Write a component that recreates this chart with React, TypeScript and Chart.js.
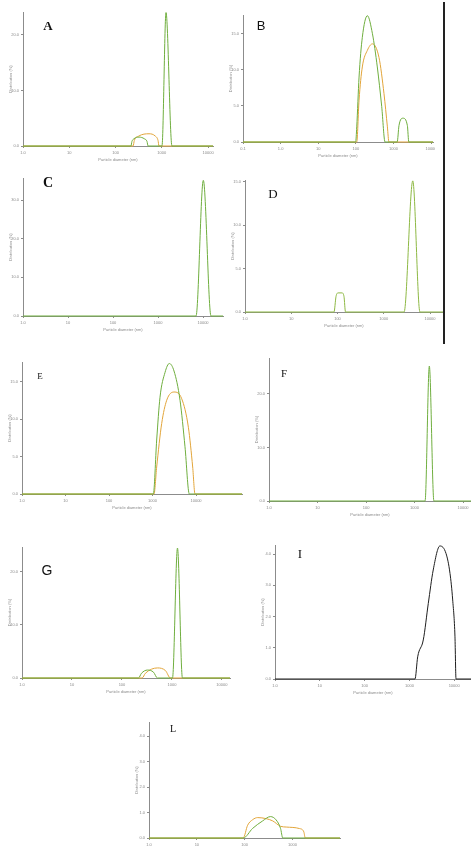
import React, { useEffect, useRef } from "react";
import { Chart, registerables } from "chart.js";

Chart.register(...registerables);

const GREEN = "#6fae3e";
const OLIVE = "#8db843";
const ORANGE = "#e2a53a";
const BLACK = "#1e1e1e";

// x tick sets (particle diameter, nm)
const xTicks5 = [1, 10, 100, 1000, 10000];
const xLabels5 = ["1.0", "10", "100", "1000", "10000"];
const xTicks6 = [0.1, 1, 10, 100, 1000, 10000];
const xLabels6 = ["0.1", "1.0", "10", "100", "1000", "10000"];
const xTicks4 = [1, 10, 100, 1000];
const xLabels4 = ["1.0", "10", "100", "1000"];

// y tick sets (distribution %)
const yTicks20 = [0, 10, 20];
const yLabels20 = ["0.0", "10.0", "20.0"];
const yTicks15 = [0, 5, 10, 15];
const yLabels15 = ["0.0", "5.0", "10.0", "15.0"];
const yTicks30 = [0, 10, 20, 30];
const yLabels30 = ["0.0", "10.0", "20.0", "30.0"];
const yTicks4 = [0, 1, 2, 3, 4];
const yLabels4 = ["0.0", "1.0", "2.0", "3.0", "4.0"];

// Panel A
const aGreenX = [1, 216, 226, 250, 323, 420, 480, 505, 1010, 1235, 1660, 12800];
const aGreenY = [0, 0, 0.8, 1.3, 1.6, 1.3, 0.8, 0, 0, 24, 0, 0];
const aOrangeX = [1, 240, 255, 320, 530, 720, 830, 870, 12800];
const aOrangeY = [0, 0, 1.0, 1.8, 2.2, 1.8, 1.0, 0, 0];

// Panel B
const bGreenX = [0.1, 99, 106, 122, 149, 203, 277, 373, 489, 600, 1260, 1410, 1800, 2350, 2570, 11300];
const bGreenY = [0, 0, 2.1, 9.0, 14.5, 17.5, 15.0, 10.4, 4.9, 0, 0, 2.3, 3.3, 2.3, 0, 0];
const bOrangeX = [0.1, 106, 122, 149, 203, 277, 414, 562, 692, 760, 11300];
const bOrangeY = [0, 0, 5.8, 10.4, 12.7, 13.6, 11.7, 6.7, 2.1, 0, 0];

// Panel C
const cGreenX = [1, 6990, 10160, 15060, 27800];
const cGreenY = [0, 0, 35.1, 0, 0];

// Panel D
const dGreenX = [1, 84, 93, 103, 125, 138, 149, 2750, 4240, 6060, 19100];
const dGreenY = [0, 0, 1.8, 2.2, 2.2, 1.8, 0, 0, 15.1, 0, 0];

// Panel E
const eGreenX = [1, 1043, 1247, 1487, 1937, 2435, 3120, 4290, 5580, 7020, 114000];
const eGreenY = [0, 0, 7.2, 12.9, 16.2, 17.4, 16.4, 12.5, 6.3, 0, 0];
const eOrangeX = [1, 1082, 1247, 1625, 2120, 3120, 4690, 6670, 8380, 9480, 114000];
const eOrangeY = [0, 0, 3.6, 9.4, 12.5, 13.6, 12.7, 8.9, 3.6, 0, 0];

// Panel F
const fGreenX = [1, 1650, 2020, 2510, 14600];
const fGreenY = [0, 0, 25.2, 0, 0];

// Panel G
const gGreenX = [1, 214, 246, 324, 427, 513, 1025, 1290, 1620, 14500];
const gGreenY = [0, 0, 0.9, 1.5, 1.1, 0, 0, 24.5, 0, 0];
const gOrangeX = [1, 253, 295, 513, 741, 933, 14500];
const gOrangeY = [0, 0, 0.9, 1.9, 1.4, 0, 0];

// Panel I
const iBlackX = [1, 1333, 1530, 2040, 2640, 3400, 4800, 6560, 8060, 9250, 10400, 10970, 23700];
const iBlackY = [0, 0, 0.71, 1.25, 2.42, 3.49, 4.26, 4.02, 3.38, 2.53, 1.35, 0, 0];

// Panel L
const lGreenX = [1, 93, 147, 237, 345, 453, 560, 625, 9800];
const lGreenY = [0, 0, 0.38, 0.67, 0.84, 0.71, 0.38, 0, 0];
const lOrangeX = [1, 93, 115, 147, 187, 279, 385, 560, 735, 1400, 1720, 1840, 9800];
const lOrangeY = [0, 0, 0.5, 0.72, 0.8, 0.76, 0.67, 0.46, 0.43, 0.37, 0.24, 0, 0];

type Series = { x: number[]; y: number[]; color: string };
type PanelCfg = {
  letter: string;
  letterX: number;
  letterY: number;
  letterFont: string;
  letterSize: number;
  letterWeight: number;
  axisX: number;
  axisTop: number;
  axisRight: number;
  axisBottom: number;
  xMin: number;
  xMax: number;
  xTicks: number[];
  xLabels: string[];
  yMax: number;
  yTicks: number[];
  yLabels: string[];
  series: Series[];
};

const SERIF = "'Liberation Serif', 'DejaVu Serif', serif";
const SANS = "'Liberation Sans', Arial, sans-serif";

const panels: PanelCfg[] = [
  {
    letter: "A", letterX: 48, letterY: 25, letterFont: SERIF, letterSize: 13, letterWeight: 700,
    axisX: 23, axisTop: 12, axisRight: 213, axisBottom: 146,
    xMin: 1, xMax: 12800, xTicks: xTicks5, xLabels: xLabels5,
    yMax: 24.1, yTicks: yTicks20, yLabels: yLabels20,
    series: [
      { x: aGreenX, y: aGreenY, color: GREEN },
      { x: aOrangeX, y: aOrangeY, color: ORANGE },
    ],
  },
  {
    letter: "B", letterX: 261, letterY: 25, letterFont: SANS, letterSize: 13, letterWeight: 400,
    axisX: 243, axisTop: 15, axisRight: 433, axisBottom: 142,
    xMin: 0.1, xMax: 11300, xTicks: xTicks6, xLabels: xLabels6,
    yMax: 17.6, yTicks: yTicks15, yLabels: yLabels15,
    series: [
      { x: bGreenX, y: bGreenY, color: GREEN },
      { x: bOrangeX, y: bOrangeY, color: ORANGE },
    ],
  },
  {
    letter: "C", letterX: 48, letterY: 183, letterFont: SERIF, letterSize: 14, letterWeight: 700,
    axisX: 23, axisTop: 178, axisRight: 223, axisBottom: 316,
    xMin: 1, xMax: 27800, xTicks: xTicks5, xLabels: xLabels5,
    yMax: 35.7, yTicks: yTicks30, yLabels: yLabels30,
    series: [{ x: cGreenX, y: cGreenY, color: GREEN }],
  },
  {
    letter: "D", letterX: 273, letterY: 193, letterFont: SERIF, letterSize: 13, letterWeight: 400,
    axisX: 245, axisTop: 180, axisRight: 443, axisBottom: 312,
    xMin: 1, xMax: 19100, xTicks: xTicks5, xLabels: xLabels5,
    yMax: 15.2, yTicks: yTicks15, yLabels: yLabels15,
    series: [{ x: dGreenX, y: dGreenY, color: OLIVE }],
  },
  {
    letter: "E", letterX: 40, letterY: 376, letterFont: SERIF, letterSize: 9, letterWeight: 400,
    axisX: 22, axisTop: 362, axisRight: 242, axisBottom: 494,
    xMin: 1, xMax: 114000, xTicks: xTicks5, xLabels: xLabels5,
    yMax: 17.6, yTicks: yTicks15, yLabels: yLabels15,
    series: [
      { x: eGreenX, y: eGreenY, color: GREEN },
      { x: eOrangeX, y: eOrangeY, color: ORANGE },
    ],
  },
  {
    letter: "F", letterX: 284, letterY: 373, letterFont: SERIF, letterSize: 11, letterWeight: 400,
    axisX: 269, axisTop: 358, axisRight: 471, axisBottom: 501,
    xMin: 1, xMax: 14600, xTicks: xTicks5, xLabels: xLabels5,
    yMax: 26.7, yTicks: yTicks20, yLabels: yLabels20,
    series: [{ x: fGreenX, y: fGreenY, color: GREEN }],
  },
  {
    letter: "G", letterX: 47, letterY: 570, letterFont: SANS, letterSize: 14, letterWeight: 400,
    axisX: 22, axisTop: 547, axisRight: 230, axisBottom: 678,
    xMin: 1, xMax: 14500, xTicks: xTicks5, xLabels: xLabels5,
    yMax: 24.7, yTicks: yTicks20, yLabels: yLabels20,
    series: [
      { x: gGreenX, y: gGreenY, color: GREEN },
      { x: gOrangeX, y: gOrangeY, color: ORANGE },
    ],
  },
  {
    letter: "I", letterX: 300, letterY: 553, letterFont: SERIF, letterSize: 13, letterWeight: 400,
    axisX: 275, axisTop: 545, axisRight: 471, axisBottom: 679,
    xMin: 1, xMax: 23700, xTicks: xTicks5, xLabels: xLabels5,
    yMax: 4.29, yTicks: yTicks4, yLabels: yLabels4,
    series: [{ x: iBlackX, y: iBlackY, color: BLACK }],
  },
  {
    letter: "L", letterX: 173, letterY: 729, letterFont: SERIF, letterSize: 10, letterWeight: 400,
    axisX: 149, axisTop: 722, axisRight: 340, axisBottom: 838,
    xMin: 1, xMax: 9800, xTicks: xTicks4, xLabels: xLabels4,
    yMax: 4.55, yTicks: yTicks4, yLabels: yLabels4,
    series: [
      { x: lGreenX, y: lGreenY, color: GREEN },
      { x: lOrangeX, y: lOrangeY, color: ORANGE },
    ],
  },
];

const YW = 18;
const XH = 18;
const PT = 4;
const PR = 2;
const TICK_COLOR = "#8a8a8a";
const AXIS_COLOR = "#8c8c8c";

function Panel({ cfg }: { cfg: PanelCfg }) {
  const ref = useRef<HTMLCanvasElement | null>(null);
  const left = cfg.axisX - YW;
  const top = cfg.axisTop - PT;
  const width = cfg.axisRight - cfg.axisX + YW + PR;
  const height = cfg.axisBottom - cfg.axisTop + PT + XH;

  useEffect(() => {
    if (!ref.current) return;
    const chart = new Chart(ref.current, {
      type: "line",
      data: {
        datasets: cfg.series.map((s) => ({
          data: s.x.map((x, i) => ({ x, y: s.y[i] })),
          borderColor: s.color,
          borderWidth: 1,
          pointRadius: 0,
          fill: false,
          cubicInterpolationMode: "monotone" as const,
          clip: false as any,
        })),
      },
      options: {
        animation: false,
        responsive: false,
        maintainAspectRatio: false,
        events: [],
        layout: { padding: { top: PT, right: PR, left: 0, bottom: 0 } },
        plugins: { legend: { display: false }, tooltip: { enabled: false } },
        scales: {
          x: {
            type: "logarithmic",
            min: cfg.xMin,
            max: cfg.xMax,
            afterBuildTicks: (s: any) => {
              s.ticks = cfg.xTicks.map((v) => ({ value: v }));
            },
            afterFit: (s: any) => {
              s.height = XH;
              s.paddingLeft = 0;
              s.paddingRight = 0;
            },
            ticks: {
              autoSkip: false,
              maxRotation: 0,
              minRotation: 0,
              padding: 2,
              color: TICK_COLOR,
              font: { size: 4, family: SANS },
              callback: (_v: any, i: number) => cfg.xLabels[i],
            },
            grid: { drawOnChartArea: false, tickLength: 2, color: AXIS_COLOR },
            border: { display: true, color: AXIS_COLOR, width: 1 },
            title: {
              display: true,
              text: "Particle diameter (nm)",
              color: TICK_COLOR,
              font: { size: 4, family: SANS },
              padding: { top: 0, bottom: 2 },
            },
          },
          y: {
            type: "linear",
            min: 0,
            max: cfg.yMax,
            afterBuildTicks: (s: any) => {
              s.ticks = cfg.yTicks.map((v) => ({ value: v }));
            },
            afterFit: (s: any) => {
              s.width = YW;
              s.paddingTop = 0;
              s.paddingBottom = 0;
            },
            ticks: {
              autoSkip: false,
              padding: 2,
              color: TICK_COLOR,
              font: { size: 4, family: SANS },
              callback: (_v: any, i: number) => cfg.yLabels[i],
            },
            grid: { drawOnChartArea: false, tickLength: 2, color: AXIS_COLOR },
            border: { display: true, color: AXIS_COLOR, width: 1 },
            title: {
              display: true,
              text: "Distribution (%)",
              color: TICK_COLOR,
              font: { size: 4, family: SANS },
              padding: { top: 3, bottom: 2 },
            },
          },
        },
      } as any,
    });
    return () => chart.destroy();
  }, [cfg]);

  return (
    <>
      <canvas
        ref={ref}
        width={width}
        height={height}
        style={{ position: "absolute", left, top, width, height }}
      />
      <div
        style={{
          position: "absolute",
          left: cfg.letterX,
          top: cfg.letterY,
          transform: "translate(-50%, -50%)",
          fontFamily: cfg.letterFont,
          fontSize: cfg.letterSize,
          fontWeight: cfg.letterWeight,
          lineHeight: 1,
          color: "#111",
        }}
      >
        {cfg.letter}
      </div>
    </>
  );
}

export default function App() {
  return (
    <div
      style={{
        position: "absolute",
        left: 0,
        top: 0,
        width: 471,
        height: 848,
        background: "#fff",
        overflow: "hidden",
      }}
    >
      {panels.map((p) => (
        <Panel key={p.letter} cfg={p} />
      ))}
      <div
        style={{
          position: "absolute",
          left: 443,
          top: 2,
          width: 1.5,
          height: 342,
          background: "#222",
        }}
      />
    </div>
  );
}
